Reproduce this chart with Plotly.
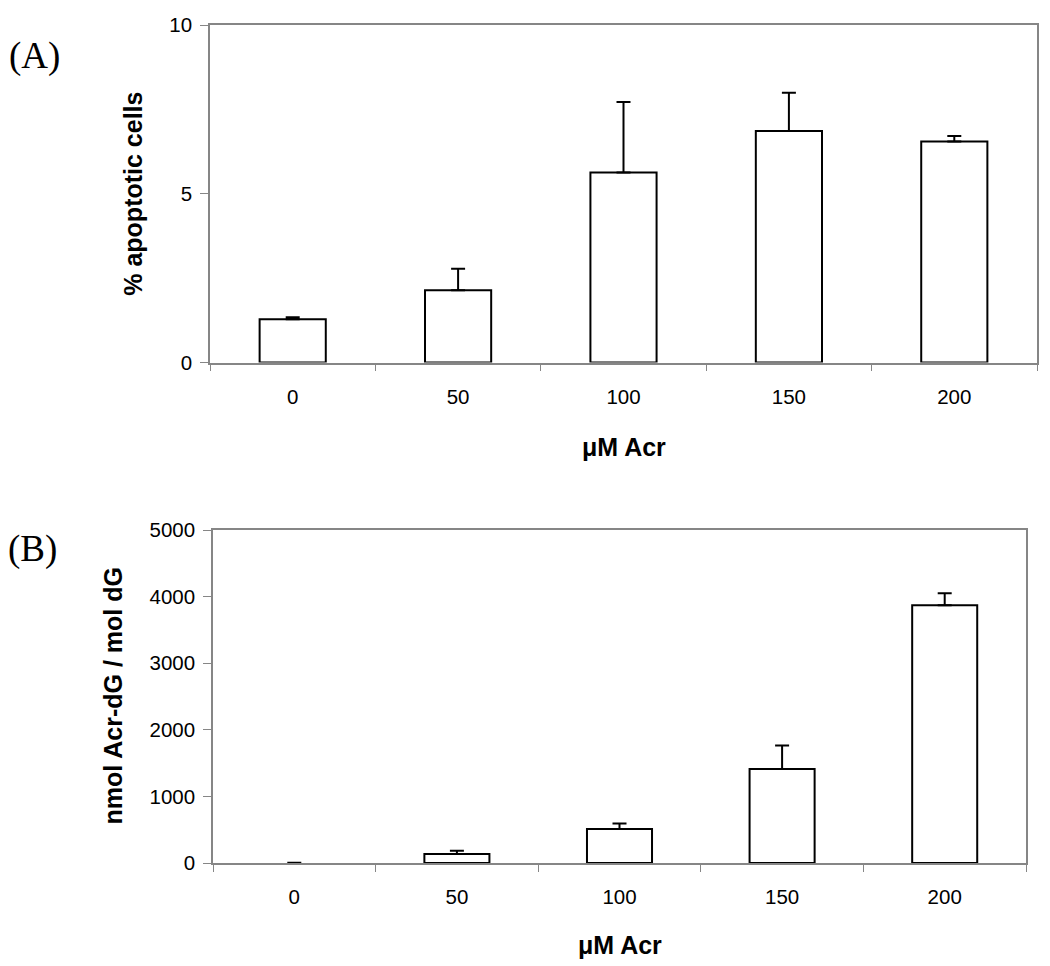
import plotly.graph_objects as go

# ---- data ----
categories = ["0", "50", "100", "150", "200"]
apoptosis = [1.28, 2.14, 5.63, 6.86, 6.55]
apoptosis_err = [0.06, 0.64, 2.09, 1.13, 0.16]
adducts = [0, 135, 510, 1410, 3870]
adducts_err = [3, 50, 82, 356, 180]

y_title_a = "% apoptotic cells"
y_title_b = "nmol Acr-dG / mol dG"
x_title = "μM Acr"

FONT = "Arial, Liberation Sans, sans-serif"
SERIF = "Times New Roman, Liberation Serif, serif"
GRAY = "#868686"

W, H = 1050, 966
OFF = 8  # page body margin: the figure is drawn 8px from the window corner


def px(x):
    return (x - OFF) / W


def py(y):
    return 1 - (y - OFF) / H


fig = go.Figure()


def bars(y, err, xa, ya):
    # a zero-height bar shows no outline (only its error cap), as in the reference
    widths = [2 if v > 0 else 0 for v in y]
    return go.Bar(
        x=categories, y=y, xaxis=xa, yaxis=ya, width=0.4,
        marker=dict(color="white", line=dict(color="black", width=widths)),
        error_y=dict(type="data", array=err, arrayminus=[0] * len(err),
                     symmetric=False, color="black", thickness=2, width=7),
        showlegend=False, hoverinfo="x+y",
    )


fig.add_trace(bars(apoptosis, apoptosis_err, "x", "y"))
fig.add_trace(bars(adducts, adducts_err, "x2", "y2"))

# plot areas in window pixels
A = dict(l=210, r=1037, t=25, b=362.5)
B = dict(l=213, r=1026, t=530, b=863)


def xdom(p):
    return [px(p["l"]), px(p["r"])]


def ydom(p):
    return [py(p["b"]), py(p["t"])]


xcommon = dict(type="category", tickson="boundaries", ticks="outside", ticklen=7,
               tickcolor=GRAY, tickwidth=1, showline=True, linecolor=GRAY, linewidth=1.5,
               mirror=True, showgrid=False, zeroline=False,
               tickfont=dict(family=FONT, size=20.5, color="black"),
               ticklabelstandoff=15, fixedrange=True, automargin=False)
ycommon = dict(ticks="outside", ticklen=8, tickcolor=GRAY, tickwidth=1, showline=True,
               linecolor=GRAY, linewidth=1.5, mirror=True, showgrid=False, zeroline=False,
               tickfont=dict(family=FONT, size=20.5, color="black"),
               ticklabelstandoff=4, fixedrange=True, automargin=False)

fig.update_layout(
    width=W, height=H,
    margin=dict(l=0, r=0, t=0, b=0, autoexpand=False),
    paper_bgcolor="white", plot_bgcolor="white",
    xaxis=dict(domain=xdom(A), anchor="y", **xcommon),
    yaxis=dict(domain=ydom(A), anchor="x", range=[0, 10], dtick=5, **ycommon),
    xaxis2=dict(domain=xdom(B), anchor="y2", **xcommon),
    yaxis2=dict(domain=ydom(B), anchor="x2", range=[0, 5000], dtick=1000, **ycommon),
    bargap=0.6,
)


def label(text, x, y, size, family, angle=0):
    return dict(text=text, x=px(x), y=py(y), xref="paper", yref="paper",
                xanchor="center", yanchor="middle", textangle=angle, showarrow=False,
                font=dict(family=family, size=size, color="black"))


ann = [
    label("(A)", 34, 56, 37, SERIF),
    label("(B)", 32, 549, 37, SERIF),
    label(f"<b>{y_title_a}</b>", 133, (A["t"] + A["b"]) / 2, 25, FONT, -90),
    label(f"<b>{y_title_b}</b>", 112, (B["t"] + B["b"]) / 2, 25, FONT, -90),
    label(f"<b>{x_title}</b>", (A["l"] + A["r"]) / 2, 447, 25, FONT),
    label(f"<b>{x_title}</b>", (B["l"] + B["r"]) / 2, 945, 25, FONT),
]
fig.update_layout(annotations=ann)

fig.write_html("out.html")
